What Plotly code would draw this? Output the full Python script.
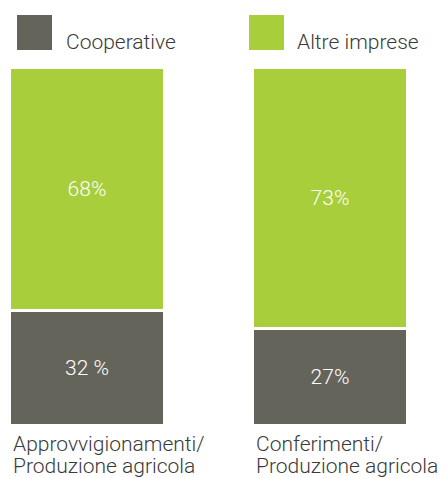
import plotly.graph_objects as go

categories_line1 = ["Approvvigionamenti/", "Conferimenti/"]
categories_line2 = ["Produzione agricola", "Produzione agricola"]
series_names = ["Cooperative", "Altre imprese"]
coop_values = [32, 27]
altre_values = [68, 73]
coop_text = ["32 %", "27%"]
altre_text = ["68%", "73%"]

GRAY = "#65645b"
GREEN = "#a8ce3b"
FONT = "Roboto"
TXT = "#3a3a3a"

# page body adds an 8px offset; figure sized to the visible window
OFF = 8
W, H = 448 - OFF, 478 - OFF
T, B = 59, 53
plot_h = H - T - B
unit = 243.0
bar_w = 155 / unit
xpos = [0, 1]
x_left = -(87 - OFF) / unit
x_right = (W - (87 - OFF)) / unit

fig = go.Figure()
fig.add_trace(go.Bar(
    x=xpos, y=coop_values, width=bar_w, name=series_names[0],
    marker=dict(color=GRAY, line=dict(color="white", width=3)),
    text=coop_text, textposition="inside", insidetextanchor="middle",
    textfont=dict(color="white", size=21, family=FONT, weight=300),
    showlegend=False, hoverinfo="skip",
))
fig.add_trace(go.Bar(
    x=xpos, y=altre_values, width=bar_w, name=series_names[1],
    marker=dict(color=GREEN, line=dict(color="white", width=3)),
    text=altre_text, textposition="inside", insidetextanchor="middle",
    textfont=dict(color="white", size=21, family=FONT, weight=300),
    showlegend=False, hoverinfo="skip",
))

def py(ref_px):
    return (H - B - (ref_px - OFF)) / plot_h

def pxx(ref_px):
    return (ref_px - OFF) / W

# legend swatches and labels (reference pixel positions)
legend_x = [17, 249]
legend_text_x = [64, 295]
colors = [GRAY, GREEN]
for i in range(2):
    fig.add_shape(type="rect", xref="paper", yref="paper",
                  x0=pxx(legend_x[i]), x1=pxx(legend_x[i] + 35),
                  y0=py(50), y1=py(15),
                  fillcolor=colors[i], line=dict(width=0))
    fig.add_annotation(xref="paper", yref="paper", x=pxx(legend_text_x[i]), y=py(41.5),
                       text=series_names[i], showarrow=False, xanchor="left", yanchor="middle",
                       font=dict(size=21, color=TXT, family=FONT, weight=300))

for i in range(2):
    xl = xpos[i] - 152 / unit / 2
    for line, yref_px in ((categories_line1[i], 443.5), (categories_line2[i], 465.5)):
        fig.add_annotation(x=xl, xref="x", y=py(yref_px), yref="paper",
                           text=line, showarrow=False, xanchor="left", yanchor="middle",
                           align="left",
                           font=dict(size=21, color=TXT, family=FONT, weight=300))

fig.update_layout(
    barmode="stack", width=W, height=H,
    margin=dict(l=0, r=0, t=T, b=B),
    plot_bgcolor="white", paper_bgcolor="white",
    xaxis=dict(range=[x_left, x_right], visible=False),
    yaxis=dict(range=[0, 100], visible=False),
)
fig.write_html("out.html")
